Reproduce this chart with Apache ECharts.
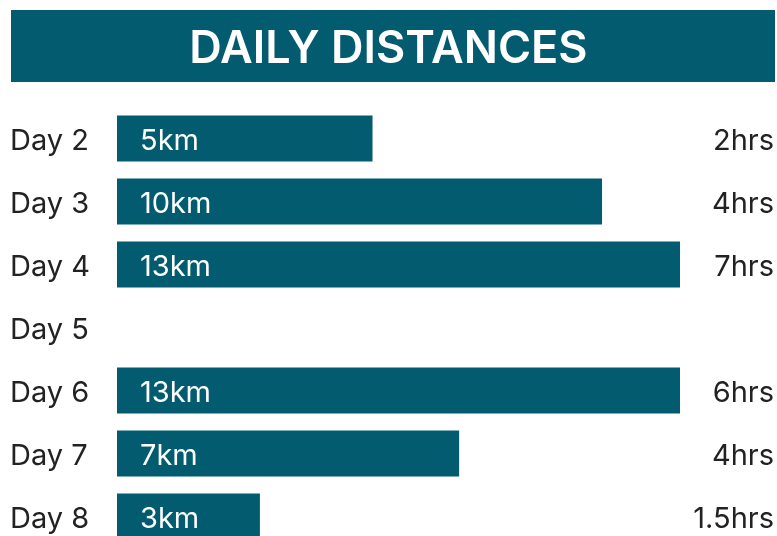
<!DOCTYPE html>
<html>
<head>
<meta charset="utf-8">
<script src="https://cdn.jsdelivr.net/npm/echarts@6/dist/echarts.min.js"></script>
<style>
  html, body { margin: 0; padding: 0; background: #fff; overflow: hidden; }
  /* taller than the window: the last bar runs off the bottom edge in the reference */
  #chart { width: 777px; height: 548px; }
</style>
</head>
<body>
<div id="chart"></div>
<script>
const days = ["Day 2", "Day 3", "Day 4", "Day 5", "Day 6", "Day 7", "Day 8"];
// bar lengths as drawn in the picture (not proportional to the km labels)
const barLength = [5.9, 11.2, 13, null, 13, 7.9, 3.3];
const distanceLabels = ["5km", "10km", "13km", "", "13km", "7km", "3km"];
const hoursLabels = ["2hrs", "4hrs", "7hrs", "", "6hrs", "4hrs", "1.5hrs"];

const teal = "#025b6f";
const font = "Inter";

const chart = echarts.init(document.getElementById("chart"), null, { renderer: "canvas" });
chart.setOption({
  backgroundColor: "#fff",
  animation: false,
  title: {
    text: "DAILY DISTANCES",
    left: "center",
    top: 22,
    textStyle: { color: "#fff", fontFamily: font, fontSize: 45, fontWeight: 600 },
  },
  graphic: [
    {
      type: "rect",
      z: -1,
      shape: { x: 11, y: 10, width: 764, height: 72 },
      style: { fill: teal },
    },
  ],
  grid: { left: 117, right: 96, top: 107, bottom: 0 },
  xAxis: { type: "value", min: 0, max: 13, show: false },
  yAxis: [
    {
      type: "category",
      data: days,
      inverse: true,
      axisLine: { show: false },
      axisTick: { show: false },
      axisLabel: {
        align: "left",
        verticalAlign: "top",
        margin: 107,
        padding: [-14, 0, 0, 0],
        color: "#222",
        fontFamily: font,
        fontSize: 29,
        lineHeight: 34,
      },
    },
    {
      type: "category",
      data: hoursLabels,
      inverse: true,
      position: "right",
      axisLine: { show: false },
      axisTick: { show: false },
      axisLabel: {
        align: "right",
        verticalAlign: "top",
        margin: 94,
        padding: [-14, 0, 0, 0],
        color: "#222",
        fontFamily: font,
        fontSize: 29,
        lineHeight: 34,
      },
    },
  ],
  series: [
    {
      type: "bar",
      data: barLength,
      barWidth: 46,
      itemStyle: { color: teal },
      label: {
        show: true,
        position: "insideLeft",
        distance: 23,
        offset: [0, 3],
        color: "#fff",
        fontFamily: font,
        fontSize: 29,
        formatter: (p) => distanceLabels[p.dataIndex],
      },
    },
  ],
});
</script>
</body>
</html>
